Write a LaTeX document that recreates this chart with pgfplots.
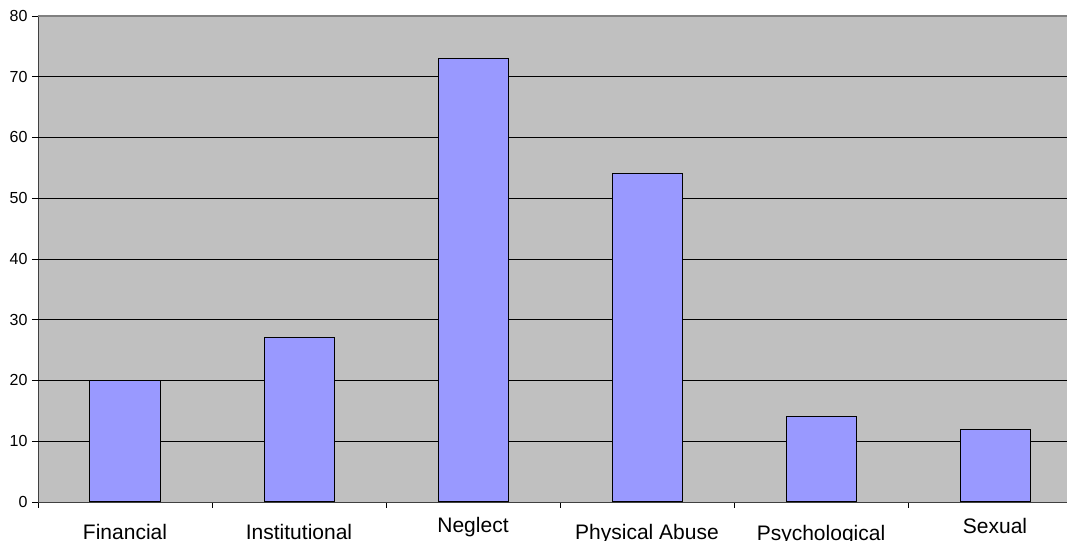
\documentclass[border=0pt]{standalone}
\usepackage{pgfplots}
\pgfplotsset{compat=1.18}
\usepackage{fontspec}
\setmainfont{Liberation Sans}
\definecolor{bgc}{HTML}{C0C0C0}
\definecolor{barc}{HTML}{9999FF}
\begin{document}
\begin{tikzpicture}
\begin{axis}[
  name=ax,
  scale only axis,
  width=1044bp, height=486bp,
  xmin=-0.5, xmax=5.5,
  ymin=0, ymax=80,
  axis background/.style={fill=bgc},
  axis x line*=bottom,
  axis y line*=left,
  axis line style={black!75, line width=0.8bp},
  ytick={0,10,...,80},
  extra y ticks={10,20,...,70},
  extra y tick style={grid=major, major grid style={black, line width=0.8bp}, yticklabels={}, major tick length=0pt},
  tick align=outside,
  major tick length=6bp,
  minor tick length=6bp,
  tick style={black, line width=0.6bp},
  xtick={0,...,5},
  x tick style={draw=none},
  minor xtick={-0.5,0.5,...,5.5},
  minor x tick style={draw=black, line width=0.6bp},
  xticklabels={Financial, Institutional, \raisebox{7bp}{Neglect}, Physical Abuse, \raisebox{-1bp}{Psychological}, \raisebox{6bp}{Sexual}},
  xticklabel style={anchor=base, yshift=-32bp, font=\fontsize{21bp}{24bp}\selectfont},
  yticklabel style={font=\fontsize{16bp}{18bp}\selectfont, xshift=-1bp},
  /pgf/number format/assume math mode=true,
  ybar, bar width=70bp,
  clip=false,
]
\addplot[fill=barc, draw=black, line width=1bp] coordinates {(0,20) (1,27) (2,73) (3,54) (4,14) (5,12)};
\draw[gray, line width=1.2bp] (rel axis cs:0,1) -- (rel axis cs:1,1);
\end{axis}
\pgfresetboundingbox
\path[use as bounding box] ([xshift=-38bp,yshift=-39bp]ax.south west) rectangle ([xshift=-15bp,yshift=16bp]ax.north east);
\end{tikzpicture}
\end{document}
